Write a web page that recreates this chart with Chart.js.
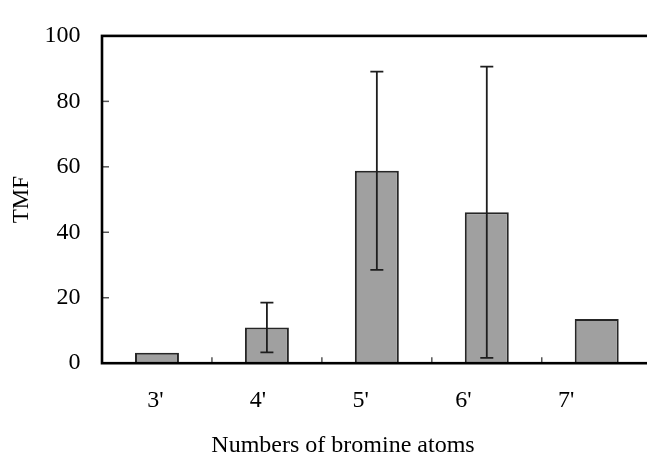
<!DOCTYPE html>
<html lang="en">
<head>
  <meta charset="UTF-8">
  <title>TMF by number of bromine atoms</title>
  <script src="https://cdn.jsdelivr.net/npm/chart.js"></script>
  <style>
    html, body {
      margin: 0;
      padding: 0;
      background: #ffffff;
      overflow: hidden;
    }
    /* the original figure is cropped on the right and bottom */
    .crop {
      width: 647px;
      height: 455px;
      overflow: hidden;
    }
  </style>
</head>
<body>
  <div class="crop">
    <canvas id="tmfChart" width="686" height="470"></canvas>
  </div>

  <script>
    const categories = ["3'", "4'", "5'", "6'", "7'"];
    const tmfValues = [3.2, 10.9, 58.8, 46.1, 13.5];
    const tmfErrors = [null, 7.6, 30.3, 44.5, null]; // +/- error, null = no bar
    const yTicks = [0, 20, 40, 60, 80, 100];

    const serif = "'Liberation Serif', 'Times New Roman', serif";

    // frame, inward tick marks and error bars
    const decorations = {
      id: 'decorations',
      afterDatasetsDraw(chart) {
        const { ctx, chartArea: a, scales } = chart;
        const x = scales.x, y = scales.y;
        ctx.save();

        // inward ticks
        ctx.strokeStyle = '#555';
        ctx.lineWidth = 1.5;
        yTicks.forEach(v => {
          if (v <= y.min || v >= y.max) return;
          const py = y.getPixelForValue(v);
          ctx.beginPath();
          ctx.moveTo(a.left, py);
          ctx.lineTo(a.left + 7, py);
          ctx.stroke();
        });
        for (let i = 0; i < categories.length - 1; i++) {
          const px = (x.getPixelForValue(i) + x.getPixelForValue(i + 1)) / 2;
          ctx.beginPath();
          ctx.moveTo(px, a.bottom);
          ctx.lineTo(px, a.bottom - 6);
          ctx.stroke();
        }

        // error bars
        ctx.strokeStyle = '#1e1e1e';
        ctx.lineWidth = 1.8;
        tmfValues.forEach((v, i) => {
          const e = tmfErrors[i];
          if (e == null) return;
          const px = x.getPixelForValue(i);
          const hi = y.getPixelForValue(v + e);
          const lo = y.getPixelForValue(v - e);
          ctx.beginPath();
          ctx.moveTo(px, hi);
          ctx.lineTo(px, lo);
          ctx.moveTo(px - 6.5, hi);
          ctx.lineTo(px + 6.5, hi);
          ctx.moveTo(px - 6.5, lo);
          ctx.lineTo(px + 6.5, lo);
          ctx.stroke();
        });

        // frame
        ctx.strokeStyle = '#000';
        ctx.lineWidth = 2.6;
        ctx.strokeRect(a.left, a.top, a.right - a.left, a.bottom - a.top);
        ctx.restore();
      }
    };

    const ctx = document.getElementById('tmfChart').getContext('2d');
    new Chart(ctx, {
      type: 'bar',
      data: {
        labels: categories,
        datasets: [{
          label: 'TMF',
          data: tmfValues,
          backgroundColor: '#a0a0a0',
          borderColor: '#262626',
          borderWidth: 2,
          categoryPercentage: 1,
          barPercentage: 0.4
        }]
      },
      options: {
        responsive: false,
        animation: false,
        layout: { padding: { top: 21.5, right: 0, left: 0, bottom: 0 } },
        plugins: {
          legend: { display: false },
          tooltip: { enabled: false },
          title: {
            display: true,
            position: 'bottom',
            text: 'Numbers of bromine atoms',
            color: '#000',
            font: { family: serif, size: 24, weight: 'normal' },
            padding: { top: 0, bottom: 10 }
          }
        },
        scales: {
          x: {
            position: 'bottom',
            weight: 0,
            grid: { display: false, drawTicks: false },
            border: { display: false },
            ticks: { display: false },
            afterFit(scale) { scale.height = 0; }
          },
          // label axis: the printed labels sit a little left of the bars
          xLabels: {
            type: 'linear',
            position: 'bottom',
            weight: 1,
            offset: false,
            bounds: 'data',
            min: -0.519,
            max: 4.834,
            grid: { display: false, drawTicks: false, offset: false },
            border: { display: false },
            afterBuildTicks(scale) {
              scale.ticks = categories.map((c, i) => ({ value: i }));
            },
            ticks: {
              autoSkip: false,
              padding: 23,
              color: '#000',
              font: { family: serif, size: 24 },
              callback: v => categories[v]
            },
            afterFit(scale) { scale.height = 68; }
          },
          y: {
            min: 0,
            max: 100,
            grid: { display: false, drawTicks: false },
            border: { display: false },
            ticks: {
              stepSize: 20,
              padding: 21.5,
              color: '#000',
              font: { family: serif, size: 24 }
            },
            title: {
              display: true,
              text: 'TMF',
              color: '#000',
              font: { family: serif, size: 23 },
              padding: { top: 8, bottom: 0 }
            },
            afterFit(scale) { scale.width = 102; }
          },
          // empty strip: the plot runs past the cropped right edge
          yRight: {
            position: 'right',
            grid: { display: false, drawTicks: false },
            border: { display: false },
            ticks: { display: false },
            afterFit(scale) { scale.width = 34.3; }
          }
        }
      },
      plugins: [decorations]
    });
  </script>
</body>
</html>
